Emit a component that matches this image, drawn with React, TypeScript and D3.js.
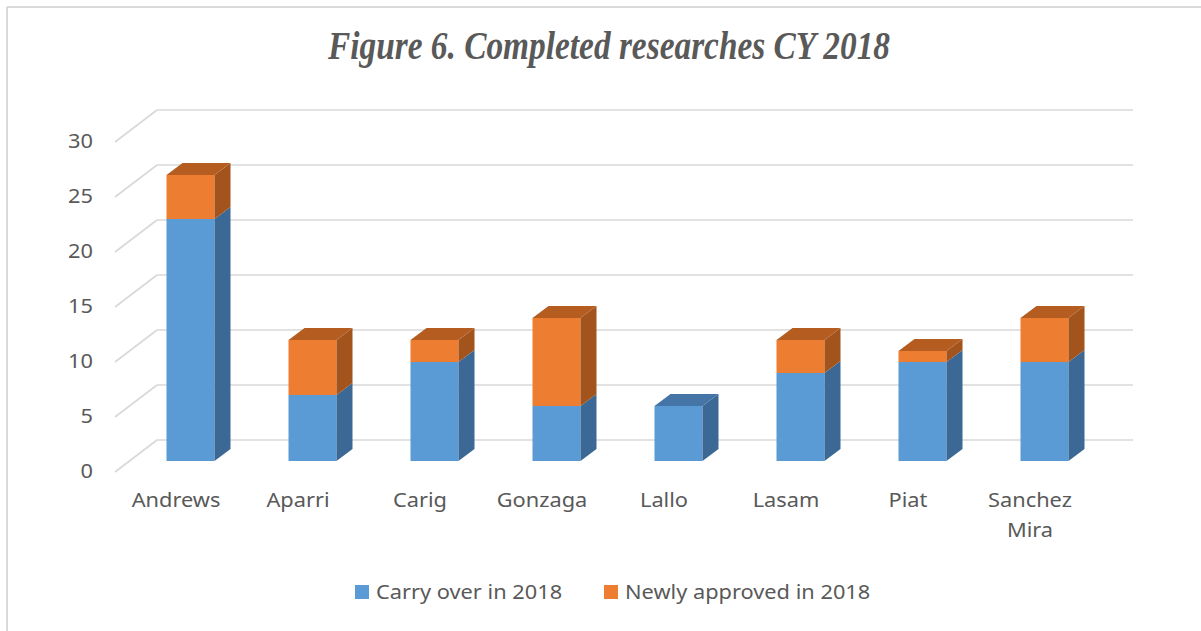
import React from "react";
import * as d3 from "d3";

const categories = ["Andrews", "Aparri", "Carig", "Gonzaga", "Lallo", "Lasam", "Piat", "Sanchez Mira"];
const carryOver = [22, 6, 9, 5, 5, 8, 9, 9];
const newlyApproved = [4, 5, 2, 8, 0, 3, 1, 4];
const seriesNames = ["Carry over in 2018", "Newly approved in 2018"];
const yTicks = [0, 5, 10, 15, 20, 25, 30];
const titleText = "Figure 6. Completed researches CY 2018";

const W = 1201;
const H = 631;
const FRONT_X0 = 115;
const FRONT_X1 = 1091;
const FLOOR_DX = 42;
const FLOOR_DY = -32;
const BAR_OFF_DX = 14.5;
const BAR_OFF_DY = -11;
const BAR_DX = 16;
const BAR_DY = -12;
const BAR_W = 48;
const SX = 1.09;

const colors = [
  { front: "#5B9BD5", side: "#3B6894", top: "#4574A6" },
  { front: "#ED7D31", side: "#A3531C", top: "#B55D20" },
];

const textColor = "#595959";
const gridColor = "#D9D9D9";
const font = "'Noto Sans', sans-serif";

export default function App() {
  const x = d3.scaleBand<string>().domain(categories).range([FRONT_X0, FRONT_X1]).padding(0);
  const y = d3.scaleLinear().domain([0, 30]).range([472, 142]);

  const series = [carryOver, newlyApproved];

  const bars: React.ReactNode[] = [];
  categories.forEach((c, i) => {
    const cx = (x(c) as number) + x.bandwidth() / 2 + BAR_OFF_DX;
    const x0 = cx - BAR_W / 2;
    const x1 = cx + BAR_W / 2;
    let base = 0;
    let topIdx = -1;
    series.forEach((s, k) => {
      if (s[i] > 0) topIdx = k;
    });
    series.forEach((s, k) => {
      const v = s[i];
      if (v <= 0) return;
      const yb = y(base) + BAR_OFF_DY;
      const yt = y(base + v) + BAR_OFF_DY;
      const col = colors[k];
      bars.push(
        <g key={`${c}-${k}`}>
          <rect x={x0} y={yt} width={BAR_W} height={yb - yt} fill={col.front} />
          <path
            d={`M${x1},${yt}L${x1 + BAR_DX},${yt + BAR_DY}L${x1 + BAR_DX},${yb + BAR_DY}L${x1},${yb}Z`}
            fill={col.side}
          />
          {k === topIdx && (
            <path
              d={`M${x0},${yt}L${x0 + BAR_DX},${yt + BAR_DY}L${x1 + BAR_DX},${yt + BAR_DY}L${x1},${yt}Z`}
              fill={col.top}
            />
          )}
        </g>
      );
      base += v;
    });
  });

  return (
    <svg width={W} height={H} style={{ position: "absolute", left: 0, top: 0, background: "#fff" }}>
      <rect x={0} y={0} width={W} height={H} fill="#fff" />
      <line x1={7} y1={7} x2={W} y2={7} stroke={gridColor} strokeWidth={2} />
      <line x1={7} y1={7} x2={7} y2={H} stroke={gridColor} strokeWidth={2} />

      <text
        x={609}
        y={59}
        textAnchor="middle"
        fontFamily="'Liberation Serif', 'Times New Roman', serif"
        fontStyle="italic"
        fontWeight="bold"
        fontSize={40}
        fill={textColor}
        textLength={562}
        lengthAdjust="spacingAndGlyphs"
      >
        {titleText}
      </text>

      {yTicks.map((t) => (
        <g key={t}>
          <line
            x1={FRONT_X0}
            y1={y(t)}
            x2={FRONT_X0 + FLOOR_DX}
            y2={y(t) + FLOOR_DY}
            stroke={gridColor}
            strokeWidth={1.6}
          />
          <line
            x1={FRONT_X0 + FLOOR_DX}
            y1={y(t) + FLOOR_DY}
            x2={FRONT_X1 + FLOOR_DX}
            y2={y(t) + FLOOR_DY}
            stroke={gridColor}
            strokeWidth={1.6}
          />
          <g transform={`translate(93,${y(t) - 2}) scale(${SX},1)`}>
            <text
              x={0}
              y={0}
              textAnchor="end"
              dominantBaseline="central"
              fontFamily={font}
              fontSize={20}
              fill={textColor}
            >
              {t}
            </text>
          </g>
        </g>
      ))}

      {bars}

      {categories.map((c) => {
        const words = c.split(" ");
        const cx = (x(c) as number) + x.bandwidth() / 2;
        return (
          <g key={c} transform={`translate(${cx},0) scale(${SX},1)`}>
            <text textAnchor="middle" fontFamily={font} fontSize={20} fill={textColor}>
              {words.map((w, j) => (
                <tspan key={j} x={0} y={507 + j * 30}>
                  {w}
                </tspan>
              ))}
            </text>
          </g>
        );
      })}

      {seriesNames.map((n, k) => {
        const lx = k === 0 ? 355 : 604;
        return (
          <g key={n}>
            <rect x={lx} y={585} width={14} height={14} fill={colors[k].front} />
            <g transform={`translate(${lx + 21},599) scale(${SX},1)`}>
              <text x={0} y={0} fontFamily={font} fontSize={20} fill={textColor}>
                {n}
              </text>
            </g>
          </g>
        );
      })}
    </svg>
  );
}
